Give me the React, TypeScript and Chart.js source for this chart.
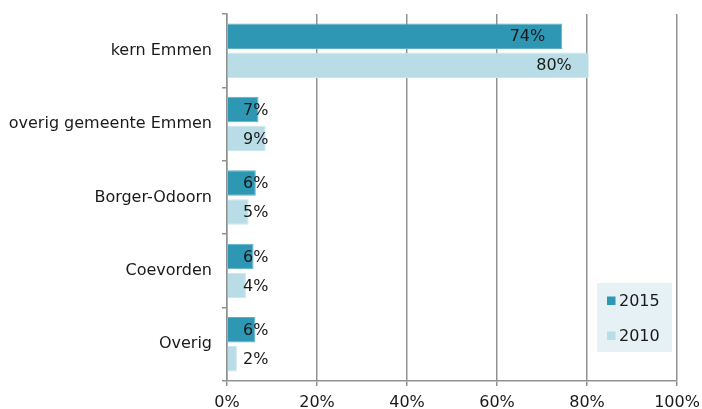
import { useEffect, useRef } from "react";
import { Chart, registerables } from "chart.js";

Chart.register(...registerables);

const categories = ["kern Emmen", "overig gemeente Emmen", "Borger-Odoorn", "Coevorden", "Overig"];
const seriesNames = ["2015", "2010"];
const values2015 = [74.5, 7.0, 6.4, 5.9, 6.3];
const values2010 = [80.4, 8.6, 4.8, 4.2, 2.2];
const labels2015 = ["74%", "7%", "6%", "6%", "6%"];
const labels2010 = ["80%", "9%", "5%", "4%", "2%"];
const xTicks = [0, 20, 40, 60, 80, 100];

const FONT = '"DejaVu Sans", Verdana, sans-serif';
const COL_2015 = "#2E97B3";
const COL_2010 = "#B9DDE7";
const GRID = "#919191";

const labelSets = [labels2015, labels2010];

const labelPlugin = {
  id: "barLabels",
  afterDatasetsDraw(chart: any) {
    const ctx = chart.ctx;
    const left = chart.chartArea.left;
    ctx.save();
    ctx.font = `16px ${FONT}`;
    ctx.fillStyle = "#1a1a1a";
    ctx.textBaseline = "middle";
    ctx.textAlign = "left";
    chart.data.datasets.forEach((ds: any, di: number) => {
      const meta = chart.getDatasetMeta(di);
      meta.data.forEach((bar: any, i: number) => {
        const txt = labelSets[di][i];
        const w = ctx.measureText(txt).width;
        const right = Math.max(bar.x - 17, left + 16 + w);
        ctx.fillText(txt, right - w, bar.y + 1);
      });
    });
    ctx.restore();
  },
};

const legendPlugin = {
  id: "boxLegend",
  afterDraw(chart: any) {
    const ctx = chart.ctx;
    ctx.save();
    ctx.fillStyle = "#E5F1F4";
    ctx.fillRect(597, 283, 75, 69);
    const cols = [COL_2015, COL_2010];
    const ys = [300.5, 335.5];
    ctx.font = `16px ${FONT}`;
    ctx.textBaseline = "middle";
    ctx.textAlign = "left";
    seriesNames.forEach((n, i) => {
      ctx.fillStyle = cols[i];
      ctx.fillRect(607, ys[i] - 4, 8.5, 8.5);
      ctx.fillStyle = "#1a1a1a";
      ctx.fillText(n, 619, ys[i] + 1);
    });
    ctx.restore();
  },
};

export default function App() {
  const ref = useRef<HTMLCanvasElement | null>(null);
  useEffect(() => {
    document.body.style.margin = "0";
    const canvas = ref.current;
    if (!canvas) return;
    const chart = new Chart(canvas, {
      type: "bar",
      data: {
        labels: categories,
        datasets: [
          {
            label: seriesNames[0],
            data: values2015,
            backgroundColor: COL_2015,
            borderColor: "#5FB0C6",
            borderWidth: 1,
            categoryPercentage: 0.79,
            barPercentage: 0.88,
          },
          {
            label: seriesNames[1],
            data: values2010,
            backgroundColor: COL_2010,
            borderColor: "#CBE6EE",
            borderWidth: 1,
            categoryPercentage: 0.79,
            barPercentage: 0.88,
          },
        ],
      },
      options: {
        indexAxis: "y",
        responsive: false,
        animation: false,
        layout: { padding: { left: 0, top: 14, right: 25, bottom: 0 } },
        plugins: { legend: { display: false }, tooltip: { enabled: false }, title: { display: false } },
        scales: {
          x: {
            min: 0,
            max: 100,
            afterBuildTicks: (s: any) => {
              s.ticks = xTicks.map((v) => ({ value: v }));
            },
            ticks: {
              callback: (v: any) => v + "%",
              font: { family: FONT, size: 16 },
              color: "#1a1a1a",
              padding: 7,
              maxRotation: 0,
            },
            grid: { color: GRID, lineWidth: 1.5, tickLength: 5, drawTicks: true },
            border: { color: GRID, width: 1.5 },
            afterFit: (s: any) => {
              s.height = 28;
              s.paddingLeft = 0;
              s.paddingRight = 0;
            },
          },
          y: {
            grid: { drawOnChartArea: false, offset: true, tickLength: 5, color: GRID, lineWidth: 1.5 },
            border: { color: GRID, width: 1.5 },
            ticks: {
              font: { family: FONT, size: 16 },
              color: "#1a1a1a",
              padding: 10,
            },
            afterFit: (s: any) => {
              s.width = 227;
              s.paddingTop = 0;
              s.paddingBottom = 0;
            },
          },
        },
      },
      plugins: [labelPlugin, legendPlugin],
    } as any);
    return () => chart.destroy();
  }, []);
  return <canvas ref={ref} width={702} height={409} style={{ display: "block" }} />;
}
